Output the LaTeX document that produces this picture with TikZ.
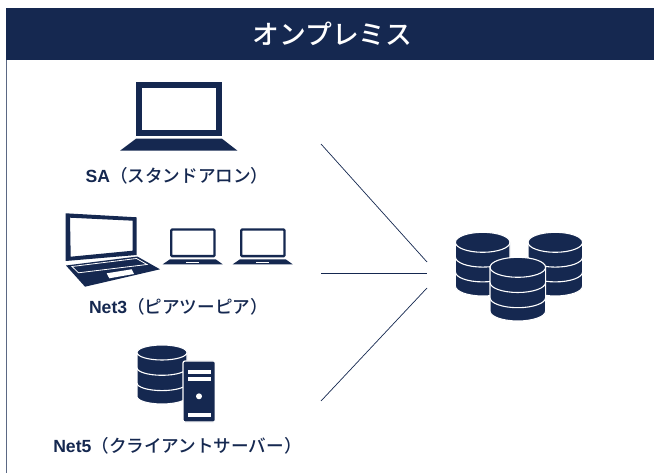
\documentclass[tikz,border=0pt]{standalone}
\usepackage{fontspec}
\setmainfont{Noto Sans CJK JP}[BoldFont={Noto Sans CJK JP Medium}]
\newfontfamily\latinf{Liberation Sans}[BoldFont={Liberation Sans Bold}]
\definecolor{navy}{HTML}{152850}
\newcommand{\cylinderIcon}[6]{% cx, cy, rx, ry, gap, bottom
  \path[fill=navy,draw=white,line width=1.1pt] (#1-#3,#2) arc[start angle=180,end angle=0,x radius=#3pt,y radius=#4pt]
    -- (#1+#3,#6-#4) arc[start angle=0,end angle=-180,x radius=#3pt,y radius=#4pt] -- cycle;
  \foreach \k in {0,1,2}{
    \draw[white,line width=1.1pt] (#1-#3,#2+\k*#5) arc[start angle=180,end angle=360,x radius=#3pt,y radius=#4pt];
  }
}
\newcommand{\smallLaptop}[1]{%
  \begin{scope}[xshift=#1pt]
    \draw[navy,line width=2.4pt,fill=white,rounded corners=1pt] (171.2,229.5) rectangle (214.5,256.2);
    \fill[navy] (170,259.3) -- (215.7,259.3) -- (222.7,264.3) -- (162.7,264.3) -- cycle;
    \fill[white] (186,262) rectangle (199,263.4);
  \end{scope}
}
\tikzset{
  x=1pt,y=-1pt,
  lbl/.style={text=navy,font=\fontsize{17.6}{19}\selectfont\bfseries,inner sep=0pt,anchor=center},
  link/.style={draw=navy,line width=0.7pt},
  edge frame/.style={draw=navy!70,line width=0.7pt}
}
\begin{document}
\begin{tikzpicture}
\useasboundingbox (0,0) rectangle (654,473);
\fill[white] (0,0) rectangle (654,473);
% frame and banner
\coordinate (frameTop) at (6.5,60);
\coordinate (frameBottom) at (6.5,473);
\draw[edge frame] (frameTop) -- (frameBottom);
\fill[navy] (6,8) rectangle (654,60);
\node[text=white,font=\fontsize{26.8}{28}\selectfont\bfseries,inner sep=0pt] (title) at (332.5,34) {オンプレミス};
% SA laptop
\draw[navy,line width=6pt] (139,85) rectangle (219,133);
\fill[navy] (136,138.7) -- (222,138.7) -- (237.5,150.7) -- (120,150.7) -- cycle;
\node[lbl] (sa) at (177,175.5) {{\latinf\bfseries SA}（スタンドアロン）};
% Net3 big laptop
\fill[navy,even odd rule] (65.7,213.3) -- (136.7,217.3) -- (136.7,255) -- (65.7,261) -- cycle
  (70,217.7) -- (132.7,220.7) -- (132.7,250.7) -- (70.7,256.7) -- cycle;
\fill[navy] (66,265.5) -- (137.3,256.5) -- (160,269.3) -- (85,286.7) -- cycle;
\draw[white,line width=0.8pt] (72,266.5) -- (136.5,258.5) -- (147,264.5) -- (78.5,272.8) -- cycle;
\fill[white] (106.7,273.3) -- (131.7,269.3) -- (134,274) -- (109.3,278.3) -- cycle;
\smallLaptop{0}
\smallLaptop{70}
\node[lbl] (net3) at (178.5,307) {{\latinf\bfseries Net3}（ピアツーピア）};
% Net5 icons
\cylinderIcon{162}{352.5}{25}{7.5}{15.3}{404}
\fill[navy,draw=white,line width=1.2pt,rounded corners=2pt] (183,361) rectangle (215.3,422);
\fill[white] (188,370) rectangle (211,374.3);
\fill[white] (188,377.3) rectangle (211,381);
\fill[white] (188,412.7) rectangle (211,417);
\fill[white] (199,396.3) circle[radius=3pt];
\node[lbl] (net5) at (177.5,445.5) {{\latinf\bfseries Net5}（クライアントサーバー）};
% Database cluster
\cylinderIcon{482.7}{242.3}{27.3}{10}{14.8}{296}
\cylinderIcon{555.3}{242.3}{27.3}{10}{14.8}{296}
\cylinderIcon{517.8}{267.3}{27.8}{10}{15.2}{321}
% connectors
\coordinate (saEnd) at (321,144);
\coordinate (net3End) at (321,273);
\coordinate (net5End) at (321,401);
\coordinate (dbA) at (427,262);
\coordinate (dbB) at (427,273);
\coordinate (dbC) at (427,288);
\draw[link] (saEnd) -- (dbA);
\draw[link] (net3End) -- (dbB);
\draw[link] (net5End) -- (dbC);
\end{tikzpicture}
\end{document}
